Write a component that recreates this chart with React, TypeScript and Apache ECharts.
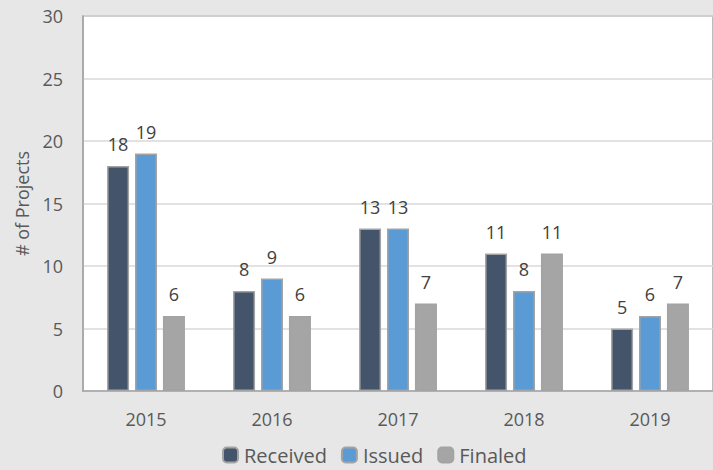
import React, { useEffect, useRef } from "react";
import * as echarts from "echarts";

const categories = ["2015", "2016", "2017", "2018", "2019"];
const received = [18, 8, 13, 11, 5];
const issued = [19, 9, 13, 8, 6];
const finaled = [6, 6, 7, 11, 7];
const yTicks = { min: 0, max: 30, interval: 5 };

const FONT = "'Open Sans', 'Noto Sans', sans-serif";

export default function App() {
  const ref = useRef<HTMLDivElement>(null);
  useEffect(() => {
    document.body.style.margin = "0";
    const chart = echarts.init(ref.current!, null, { renderer: "svg" });
    const mk = (name: string, data: number[], color: string) => ({
      name,
      type: "bar",
      data,
      barWidth: 22,
      barGap: "27%",
      itemStyle: { color, borderColor: "#a3a3a3", borderWidth: 1.5 },
      label: {
        show: true,
        position: "top",
        distance: 13,
        color: "#404040",
        fontSize: 18,
        fontFamily: FONT,
      },
    });
    chart.setOption({
      animation: false,
      backgroundColor: "#e7e7e7",
      textStyle: { fontFamily: FONT },
      grid: {
        left: 83,
        top: 16,
        right: -2,
        bottom: 79,
        show: true,
        backgroundColor: "#ffffff",
        borderColor: "#a6a6a6",
        borderWidth: 1.5,
      },
      legend: {
        bottom: 0,
        left: 217,
        itemWidth: 15,
        itemHeight: 15,
        itemGap: 14,
        textStyle: { color: "#595959", fontSize: 20, fontFamily: FONT, padding: [0, 0, 0, 1] },
        data: ["Received", "Issued", "Finaled"],
      },
      xAxis: {
        type: "category",
        data: categories,
        axisLine: { lineStyle: { color: "#a6a6a6", width: 1.5 } },
        axisTick: { show: false },
        axisLabel: { color: "#595959", fontSize: 18, margin: 19, fontFamily: FONT },
      },
      yAxis: {
        type: "value",
        min: yTicks.min,
        max: yTicks.max,
        interval: yTicks.interval,
        name: "# of Projects",
        nameLocation: "middle",
        nameGap: 52,
        nameTextStyle: { color: "#595959", fontSize: 18, fontFamily: FONT },
        axisLine: { show: true, lineStyle: { color: "#a6a6a6", width: 1.5 } },
        axisLabel: { color: "#595959", fontSize: 18, margin: 20, fontFamily: FONT },
        splitLine: { lineStyle: { color: "#d9d9d9", width: 1.5 } },
      },
      series: [
        mk("Received", received, "#44546a"),
        mk("Issued", issued, "#5b9bd5"),
        mk("Finaled", finaled, "#a5a5a5"),
      ],
    });
    return () => chart.dispose();
  }, []);
  return (
    <div
      ref={ref}
      style={{ position: "absolute", left: 0, top: 0, width: 713, height: 470 }}
    />
  );
}
